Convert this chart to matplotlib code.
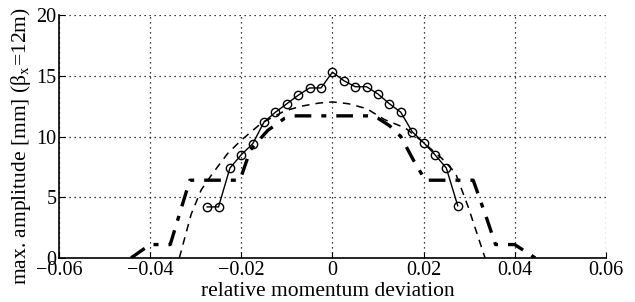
import numpy as np
import matplotlib
matplotlib.use("Agg")
import matplotlib.pyplot as plt

plt.rcParams['font.family'] = ['Liberation Serif', 'DejaVu Serif']
plt.rcParams['mathtext.fontset'] = 'stix'

# tracked particles (circles)
dp_track = [-0.0275, -0.025, -0.0225, -0.02, -0.0175, -0.015, -0.0125, -0.01,
            -0.0075, -0.005, -0.0025, 0.0, 0.0025, 0.005, 0.0075, 0.01, 0.0125,
            0.015, 0.0175, 0.02, 0.0225, 0.025, 0.0275]
amp_track = [4.2, 4.2, 7.4, 8.5, 9.4, 11.2, 12.0, 12.7, 13.4, 14.0, 14.0, 15.3,
             14.6, 14.1, 14.1, 13.5, 12.7, 12.0, 10.4, 9.5, 8.5, 7.4, 4.3]

# dashed curve
dp_dash = [-0.0336, -0.031, -0.0288, -0.0266, -0.023, -0.020, -0.0156, -0.0105,
           -0.0068, -0.003, 0.0, 0.0035, 0.0075, 0.0114, 0.016, 0.020, 0.024,
           0.027, 0.0298, 0.0335]
amp_dash = [0.0, 3.6, 5.6, 6.8, 8.6, 9.7, 11.1, 12.1, 12.5, 12.75, 12.85, 12.7,
            12.3, 11.4, 10.7, 9.5, 8.2, 7.0, 4.2, 0.0]

# dash-dot curve
dp_dd = [-0.0442, -0.040, -0.0356, -0.0313, -0.0203, -0.018, -0.0142, -0.0105,
         -0.0083, 0.0085, 0.010, 0.0125, 0.015, 0.018, 0.0204, 0.0309, 0.034,
         0.0358, 0.040, 0.0445]
amp_dd = [0.0, 1.1, 1.1, 6.4, 6.4, 8.9, 10.5, 11.5, 11.7, 11.7, 11.5, 10.9,
          10.0, 7.9, 6.4, 6.4, 3.1, 1.1, 1.1, 0.0]

fig = plt.figure(figsize=(6.35, 3.02), dpi=100)
ax = fig.add_axes([0.093, 0.146, 0.861, 0.804])

ax.plot(dp_track, amp_track, 'k-o', lw=1.0, ms=6, mfc='none', mew=1.0)
ax.plot(dp_dash, amp_dash, 'k--', lw=1.1, dashes=(5, 4))
ax.plot(dp_dd, amp_dd, 'k-.', lw=2.4, dashes=(5, 3, 1.5, 3))

ax.set_xlim(-0.06, 0.06)
ax.set_ylim(0, 20)
ax.set_xticks([-0.06, -0.04, -0.02, 0, 0.02, 0.04, 0.06])
ax.set_xticklabels(['\u22120.06', '\u22120.04', '\u22120.02', '0', '0.02', '0.04', '0.06'])
ax.set_yticks([0, 5, 10, 15, 20])
ax.grid(True, color='k', linestyle=(0, (1, 3)), lw=0.9)
ax.tick_params(direction='in', labelsize=14.5, length=4, pad=2)
for s in ['top', 'right']:
    ax.spines[s].set_visible(False)
ax.spines['left'].set_linewidth(1.2)
ax.spines['bottom'].set_linewidth(1.2)

ax.set_xlabel('relative momentum deviation', fontsize=15.5)
ax.set_ylabel('max. amplitude [mm] (β$_\\mathrm{x}$=12m)', fontsize=15.5)
ax.xaxis.set_label_coords(0.492, -0.1)
ax.yaxis.set_label_coords(-0.047, 0.46)

fig.savefig('out.png', dpi=100)
